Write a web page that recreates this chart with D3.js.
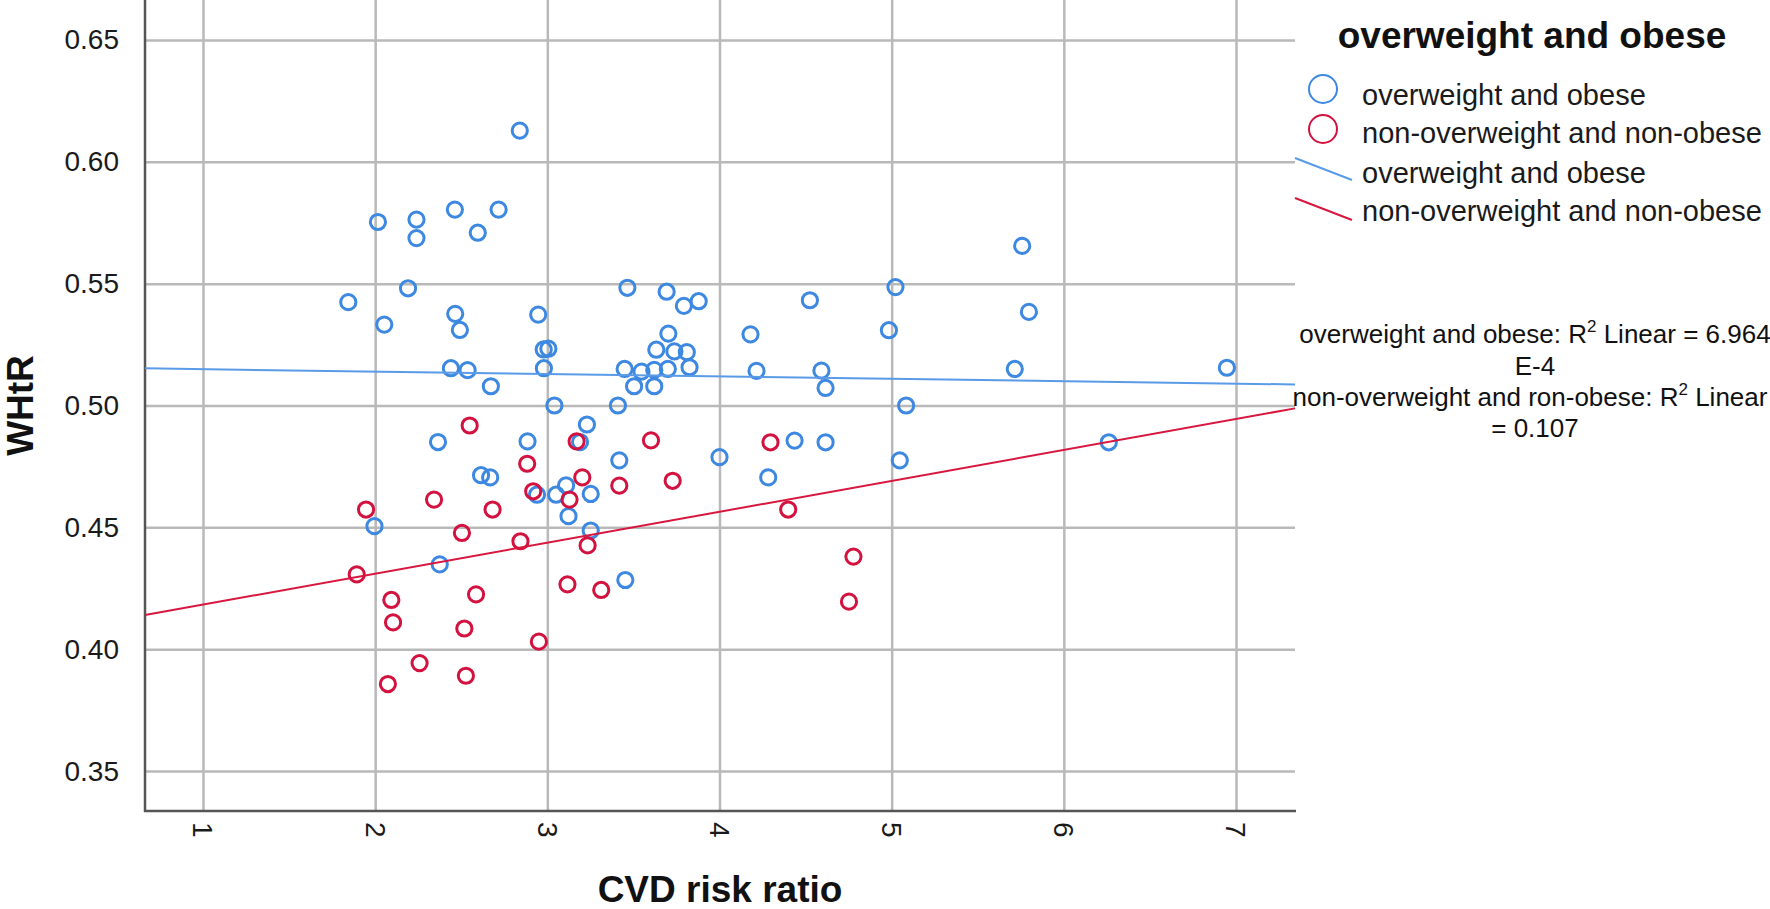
<!DOCTYPE html>
<html><head><meta charset="utf-8">
<script src="https://cdn.jsdelivr.net/npm/d3@7"></script>
<style>
html,body{margin:0;padding:0;background:#fff;}
svg{display:block;font-family:"Liberation Sans",Arial,sans-serif;}
</style></head><body>
<svg id="chart" width="1770" height="909"></svg>
<script>
// ---------- data ----------
const xTicks = [1, 2, 3, 4, 5, 6, 7];
const yTicks = [0.35, 0.40, 0.45, 0.50, 0.55, 0.60, 0.65];
const xDomain = [0.6632, 7.3426];
const yDomain = [0.3336, 0.6664];

const seriesNames = ["overweight and obese", "non-overweight and non-obese"];

// overweight and obese: [CVD risk ratio, WHtR]
const overweightPoints = [
  [2.84,0.6128],[2.016,0.5753],[2.24,0.5763],[2.24,0.5687],[2.463,0.5804],[2.596,0.5709],
  [2.717,0.5804],[1.844,0.5424],[2.191,0.5481],[2.053,0.5332],[2.465,0.5376],[2.492,0.5310],
  [2.947,0.5373],[2.979,0.5230],[3.006,0.5233],[2.98,0.5153],[2.44,0.5153],[2.537,0.5145],
  [2.672,0.5079],[3.041,0.5000],[3.41,0.5000],[3.23,0.4922],[3.465,0.5483],[3.693,0.5467],
  [3.793,0.5409],[3.879,0.5428],[3.703,0.5295],[3.633,0.5229],[3.738,0.5222],[3.81,0.5219],
  [3.449,0.5150],[3.547,0.5139],[3.621,0.5146],[3.70,0.5150],[3.826,0.5157],[3.504,0.5079],
  [3.621,0.5079],[4.18,0.5292],[4.215,0.5142],[2.365,0.4850],[2.885,0.4853],[3.19,0.4850],
  [3.418,0.4775],[4.0,0.4788],[2.615,0.4714],[2.668,0.4705],[2.94,0.4634],[3.051,0.4634],
  [3.109,0.4672],[3.252,0.4637],[3.123,0.4546],[3.252,0.4487],[1.996,0.4505],[2.375,0.4348],
  [3.453,0.4284],[4.525,0.5432],[5.022,0.5486],[5.758,0.5655],[4.984,0.5309],[5.797,0.5384],
  [4.592,0.5143],[4.616,0.5072],[5.715,0.5150],[5.084,0.5000],[4.436,0.4856],[4.616,0.4849],
  [4.283,0.4705],[5.047,0.4775],[6.261,0.4849],[6.947,0.5155]
];
// non-overweight and non-obese
const nonOverweightPoints = [
  [2.549,0.4918],[3.17,0.4853],[3.602,0.4857],[2.883,0.4761],[3.203,0.4705],[2.918,0.4648],
  [3.129,0.4614],[3.418,0.4671],[3.728,0.4691],[1.947,0.4573],[2.342,0.4614],[2.682,0.4573],
  [2.504,0.4477],[2.844,0.4443],[3.234,0.4426],[1.893,0.4307],[2.094,0.4202],[2.586,0.4225],
  [2.104,0.4110],[2.518,0.4085],[3.117,0.4266],[3.313,0.4243],[2.951,0.4031],[2.258,0.3943],
  [2.074,0.3857],[2.527,0.3891],[4.296,0.4849],[4.399,0.4573],[4.778,0.4380],[4.752,0.4195]
];
// linear fit lines: [intercept, slope]
const fitOverweight = [0.5159, -0.00099];
const fitNonOverweight = [0.4056, 0.012695];
const r2Lines = [
  ["overweight and obese: R", "2", " Linear = 6.964"],
  ["E-4"],
  ["non-overweight and ron-obese: R", "2", " Linear"],
  ["= 0.107"]
];

// ---------- layout ----------
const W = 1770, H = 909;
const plot = {left:145, right:1295, top:0, bottom:811};
const blue = "#3d88e0", red = "#d3123f";
const blueLine = "#5a9be8", redLine = "#d8173f";

const svg = d3.select("#chart");
const x = d3.scaleLinear().domain(xDomain).range([plot.left, plot.right]);
const y = d3.scaleLinear().domain(yDomain).range([plot.bottom, plot.top]);

// gridlines via axes
const gy = svg.append("g").attr("transform", `translate(${plot.left},0)`)
  .call(d3.axisLeft(y).tickValues(yTicks).tickFormat(d3.format(".2f"))
    .tickSize(-(plot.right - plot.left)).tickPadding(26));
gy.select(".domain").remove();
gy.selectAll(".tick line").attr("stroke", "#b9b9b9").attr("stroke-width", 2.5);
gy.selectAll(".tick text").attr("font-size", 28).attr("fill", "#1a1a1a")
  .attr("font-family", '"Liberation Sans",Arial,sans-serif');

const gx = svg.append("g").attr("transform", `translate(0,${plot.bottom})`)
  .call(d3.axisBottom(x).tickValues(xTicks).tickFormat(d3.format("d"))
    .tickSize(-(plot.bottom - plot.top)).tickPadding(0));
gx.select(".domain").remove();
gx.selectAll(".tick line").attr("stroke", "#b9b9b9").attr("stroke-width", 2.5);
gx.selectAll(".tick text")
  .attr("font-size", 28).attr("fill", "#1a1a1a")
  .attr("font-family", '"Liberation Sans",Arial,sans-serif')
  .attr("text-anchor", "start")
  .attr("y", null).attr("dy", null)
  .attr("transform", "translate(0,11) rotate(90)")
  .attr("dy", "0.36em");

// axis lines
svg.append("line").attr("x1", plot.left).attr("x2", plot.left)
  .attr("y1", plot.top).attr("y2", plot.bottom + 1)
  .attr("stroke", "#555").attr("stroke-width", 2.5);
svg.append("line").attr("x1", plot.left - 1).attr("x2", plot.right + 1)
  .attr("y1", plot.bottom).attr("y2", plot.bottom)
  .attr("stroke", "#555").attr("stroke-width", 2.5);

// points
function drawPoints(data, color) {
  svg.append("g").selectAll("circle").data(data).join("circle")
    .attr("cx", d => x(d[0])).attr("cy", d => y(d[1])).attr("r", 7.6)
    .attr("fill", "none").attr("stroke", color).attr("stroke-width", 3);
}
drawPoints(overweightPoints, blue);
drawPoints(nonOverweightPoints, red);

// fit lines
function drawFit(fit, color) {
  const pts = xDomain.map(v => [v, fit[0] + fit[1] * v]);
  svg.append("path").attr("d", d3.line().x(d => x(d[0])).y(d => y(d[1]))(pts))
    .attr("fill", "none").attr("stroke", color).attr("stroke-width", 2);
}
drawFit(fitOverweight, blueLine);
drawFit(fitNonOverweight, redLine);

// axis titles
svg.append("text").attr("x", (plot.left + plot.right) / 2).attr("y", 902)
  .attr("text-anchor", "middle").attr("font-size", 37).attr("font-weight", "bold")
  .attr("fill", "#111").text("CVD risk ratio");
svg.append("text").attr("transform", `translate(33,${(plot.top + plot.bottom) / 2}) rotate(-90)`)
  .attr("text-anchor", "middle").attr("font-size", 37).attr("font-weight", "bold")
  .attr("fill", "#111").text("WHtR");

// legend
const lg = svg.append("g");
lg.append("text").attr("x", 1532).attr("y", 48).attr("text-anchor", "middle")
  .attr("font-size", 37).attr("font-weight", "bold").attr("fill", "#111")
  .text(seriesNames[0]);
const legendRows = [
  {type:"circle", color:blue, label:seriesNames[0], cy:89, base:105},
  {type:"circle", color:red, label:seriesNames[1], cy:129, base:143},
  {type:"line", color:blueLine, label:seriesNames[0], cy:169, base:183},
  {type:"line", color:redLine, label:seriesNames[1], cy:209, base:221}
];
legendRows.forEach(r => {
  if (r.type === "circle") {
    lg.append("circle").attr("cx", 1323).attr("cy", r.cy).attr("r", 14)
      .attr("fill", "none").attr("stroke", r.color).attr("stroke-width", 2);
  } else {
    lg.append("line").attr("x1", 1295).attr("y1", r.cy - 11).attr("x2", 1352).attr("y2", r.cy + 11)
      .attr("stroke", r.color).attr("stroke-width", 2);
  }
  lg.append("text").attr("x", 1362).attr("y", r.base).attr("font-size", 29)
    .attr("fill", "#1a1a1a").text(r.label);
});

// R² annotation
const r2Base = [343, 375, 406, 437];
const r2Center = [1535, 1535, 1530, 1535];
r2Lines.forEach((parts, i) => {
  const t = svg.append("text").attr("x", r2Center[i]).attr("y", r2Base[i])
    .attr("text-anchor", "middle").attr("font-size", 26).attr("fill", "#111");
  if (parts.length === 1) { t.text(parts[0]); return; }
  t.append("tspan").text(parts[0]);
  t.append("tspan").attr("font-size", 17).attr("dy", -11).text(parts[1]);
  t.append("tspan").attr("dy", 11).text(parts[2]);
});
</script>
</body></html>
